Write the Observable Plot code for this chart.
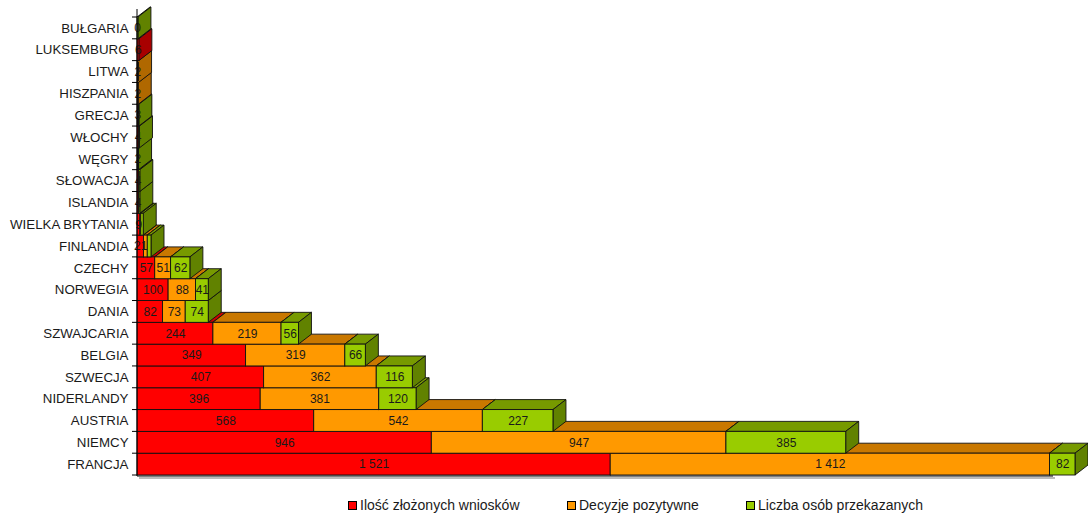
<!DOCTYPE html>
<html><head><meta charset="utf-8">
<script src="https://cdn.jsdelivr.net/npm/d3@7"></script>
<script src="https://cdn.jsdelivr.net/npm/@observablehq/plot@0.6"></script>
<style>
body{margin:0;background:#fff;font-family:"Liberation Sans",Arial,sans-serif;}
#chart{position:relative;width:1088px;height:518px;overflow:hidden;}
.legend{position:absolute;top:497px;left:0;width:1088px;height:18px;font-size:14px;color:#1a1a1a;}
.item{position:absolute;top:0;display:flex;align-items:center;height:16px;white-space:nowrap;}
.sw{width:7px;height:7px;border:1px solid #000;margin-right:3px;}
</style></head><body><div id="chart"></div>
<script>
const countries = ["BUŁGARIA","LUKSEMBURG","LITWA","HISZPANIA","GRECJA","WŁOCHY","WĘGRY","SŁOWACJA","ISLANDIA","WIELKA BRYTANIA","FINLANDIA","CZECHY","NORWEGIA","DANIA","SZWAJCARIA","BELGIA","SZWECJA","NIDERLANDY","AUSTRIA","NIEMCY","FRANCJA"];
const series = ["Ilość złożonych wniosków","Decyzje pozytywne","Liczba osób przekazanych"];
const wnioski    = [0,6,2,2,3,4,2,4,4,9,21,57,100,82,244,349,407,396,568,946,1521];
const pozytywne  = [0,0,3,2,1,1,1,2,1,3,12,51,88,73,219,319,362,381,542,947,1412];
const przekazane = [3,0,0,0,2,3,2,3,4,8,12,62,41,74,56,66,116,120,227,385,82];
const frontColors = ["#ff0000","#ff9900","#99cc00"];
const topColors   = ["#cc0000","#c97800","#779a00"];
const sideColors  = ["#a80000","#b06800","#618200"];

const data = countries.flatMap((c, i) =>
  [wnioski[i], pozytywne[i], przekazane[i]].map((v, k) => ({country: c, series: series[k], k, value: v})));

const DX = 13, DY = 10;
const fmt = v => d3.format(",")(v).replace(/,/g, " ");
const maxTotal = d3.max(countries, (c, i) => wnioski[i] + pozytywne[i] + przekazane[i]);

function bandH(scales, dimensions) {
  let h = scales.y && scales.y.bandwidth;
  if (typeof h === "function") h = h();
  if (!h) h = (dimensions.height - dimensions.marginTop - dimensions.marginBottom) / countries.length;
  return h;
}

function bars3d(index, scales, values, dimensions) {
  const X1 = values.x1, X2 = values.x2, Y = values.y;
  const h = bandH(scales, dimensions);
  const g = d3.create("svg:g");
  const rows = d3.groups(index, i => Y[i]).sort((a, b) => b[0] - a[0]);
  for (const [y0, idx] of rows) {
    const y1 = y0 + h;
    idx.sort((a, b) => data[a].k - data[b].k);
    for (const i of idx) {
      const a = X1[i], b = X2[i];
      if (!(b - a > 0)) continue;
      const k = data[i].k;
      g.append("path")
        .attr("d", `M${a},${y0}L${a + DX},${y0 - DY}L${b + DX},${y0 - DY}L${b},${y0}Z`)
        .attr("fill", topColors[k]).attr("stroke", "#111").attr("stroke-width", 0.9).attr("stroke-linejoin", "round");
      g.append("path")
        .attr("d", `M${b},${y0}L${b + DX},${y0 - DY}L${b + DX},${y1 - DY}L${b},${y1}Z`)
        .attr("fill", sideColors[k]).attr("stroke", "#111").attr("stroke-width", 0.9).attr("stroke-linejoin", "round");
      g.append("rect")
        .attr("x", a).attr("y", y0).attr("width", b - a).attr("height", h)
        .attr("fill", frontColors[k]).attr("stroke", "#111").attr("stroke-width", 0.9);
    }
  }
  return g.node();
}

function axisDeco(index, scales, values, dimensions) {
  const Y = values.y, X = values.x1;
  const h = bandH(scales, dimensions);
  const x0 = X[index[0]];
  const g = d3.create("svg:g").attr("stroke", "#000").attr("stroke-width", 1);
  const yBottom = d3.max(index, i => Y[i]) + h;
  const yTop = d3.min(index, i => Y[i]);
  g.append("line").attr("x1", x0).attr("x2", x0).attr("y1", yTop - 8).attr("y2", yBottom + 1);
  for (const i of index) g.append("line").attr("x1", x0 - 5).attr("x2", x0).attr("y1", Y[i]).attr("y2", Y[i]);
  g.append("line").attr("x1", x0 - 5).attr("x2", x0).attr("y1", yBottom).attr("y2", yBottom);
  const xEnd = scales.x(maxTotal) - 22;
  g.append("line").attr("x1", x0).attr("x2", xEnd).attr("y1", yBottom + 1).attr("y2", yBottom + 1);
  g.append("line").attr("x1", x0 + 2).attr("x2", xEnd + 2).attr("y1", yBottom + 3).attr("y2", yBottom + 3)
    .attr("stroke", "#bbb").attr("stroke-width", 2);
  return g.node();
}

const plot = Plot.plot({
  width: 1088, height: 486,
  marginLeft: 137, marginRight: 13, marginTop: 17, marginBottom: 11,
  style: {fontFamily: "'Liberation Sans', Arial, sans-serif", background: "#fff"},
  x: {domain: [0, maxTotal], axis: null},
  y: {domain: countries, padding: 0, round: false, axis: null, label: null},
  marks: [
    Plot.barX(data, Plot.stackX({y: "country", x: "value", render: bars3d})),
    Plot.text(data, Plot.stackX({
      y: "country", x: "value",
      text: d => (d.k === 0 || d.value * 0.311 > 9) ? fmt(d.value) : null,
      fill: "#1a1a1a", fontSize: 12
    })),
    Plot.barX(countries, {y: d => d, x1: () => 0, x2: () => 0, render: axisDeco}),
    Plot.axisY({tickSize: 0, tickPadding: 9, fontSize: 13.3, fill: "#1a1a1a", label: null})
  ]
});
document.getElementById("chart").appendChild(plot);

const legend = d3.select("#chart").append("div").attr("class", "legend");
const legendLeft = [348, 567, 746];
series.forEach((s, k) => {
  const it = legend.append("div").attr("class", "item").style("left", legendLeft[k] + "px");
  it.append("div").attr("class", "sw").style("background", frontColors[k]);
  it.append("span").text(s);
});
</script></body></html>
